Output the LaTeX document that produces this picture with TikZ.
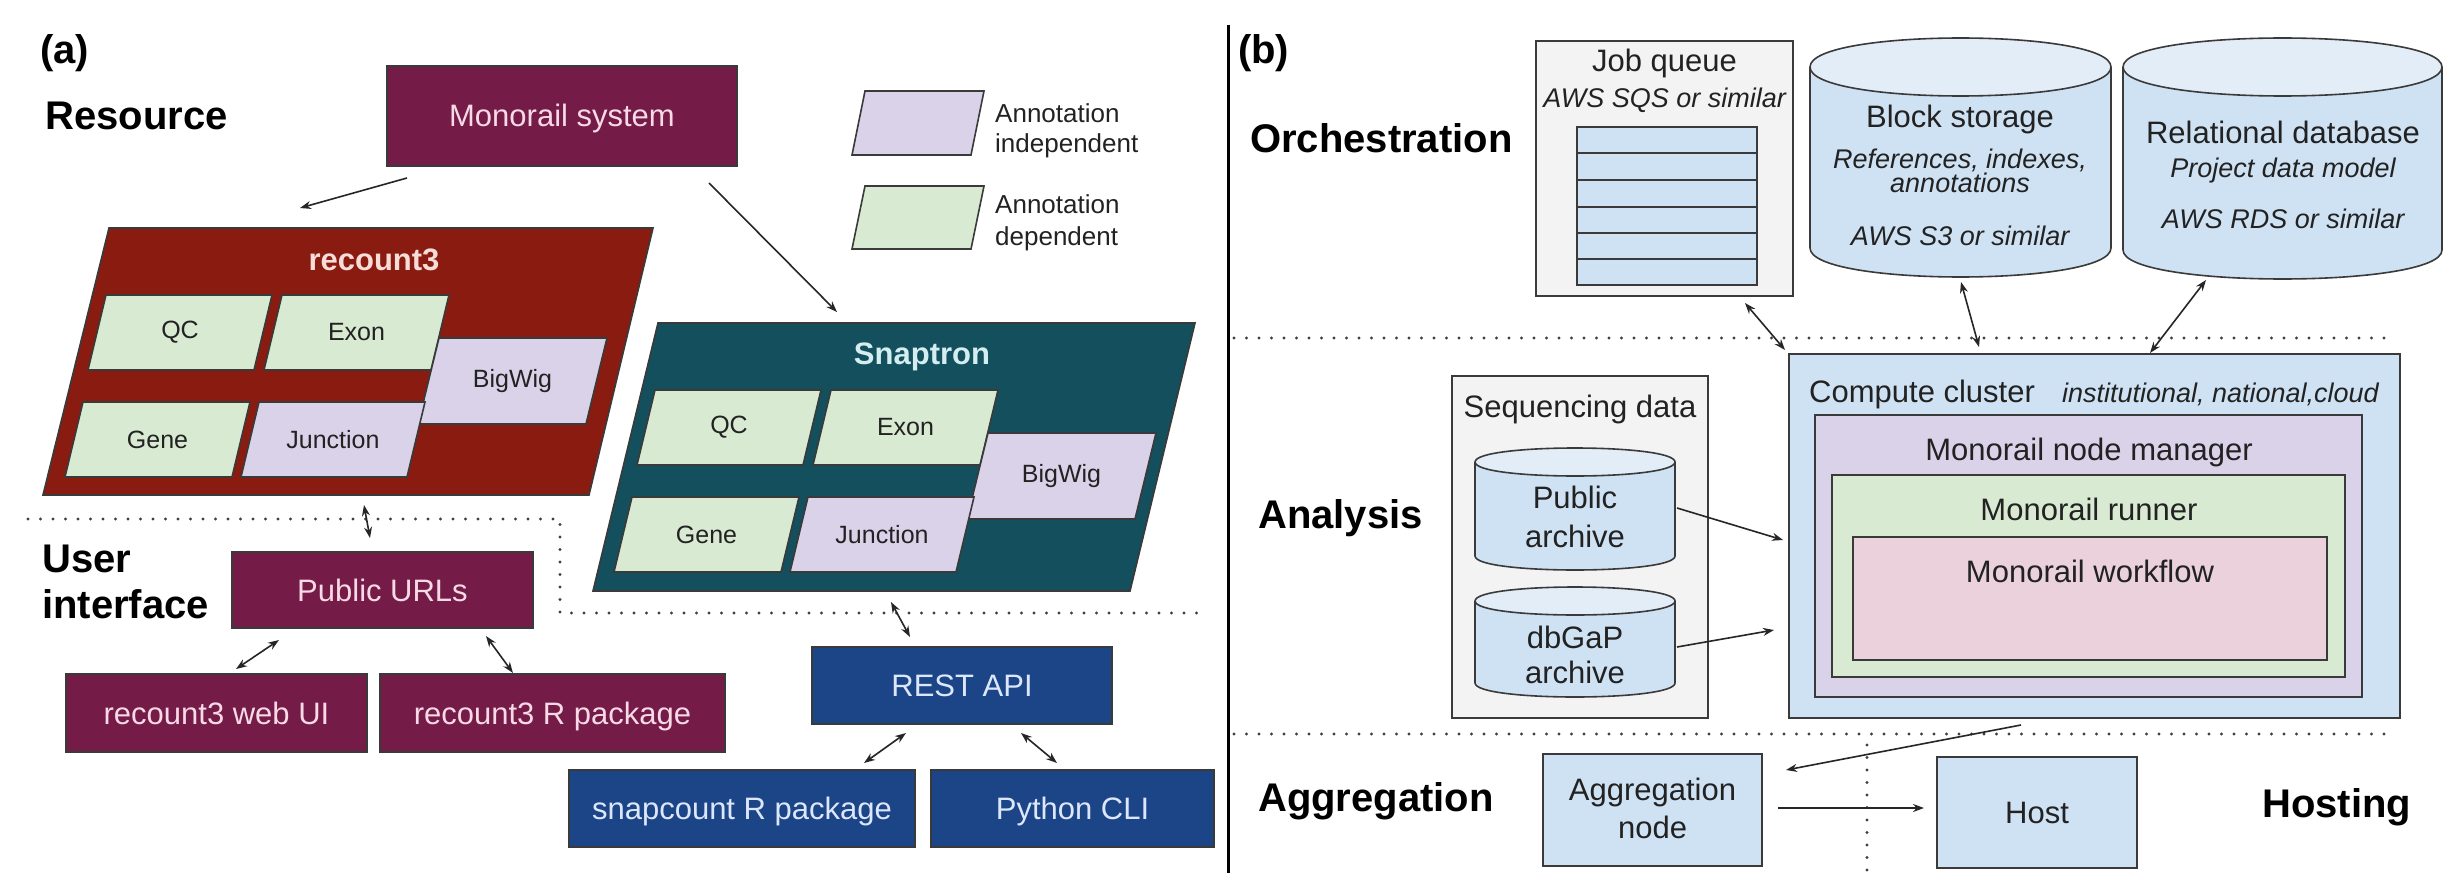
\documentclass[tikz,border=0pt]{standalone}
\usepackage{fontspec}
\setmainfont{Liberation Sans}
\usetikzlibrary{arrows.meta,calc}
\definecolor{cmaroon}{HTML}{741B47}
\definecolor{cmtext}{HTML}{F8D9E6}
\definecolor{cred}{HTML}{8A1B10}
\definecolor{crtext}{HTML}{F8DCD8}
\definecolor{cteal}{HTML}{134F5C}
\definecolor{cttext}{HTML}{D3EDF0}
\definecolor{cblue}{HTML}{1C4587}
\definecolor{cbtext}{HTML}{DCE7FB}
\definecolor{cgreen}{HTML}{D9EAD3}
\definecolor{cpurple}{HTML}{D9D2E9}
\definecolor{clblue}{HTML}{CFE2F3}
\definecolor{cltop}{HTML}{E2EDF7}
\definecolor{cpink}{HTML}{EAD1DC}
\definecolor{cgray}{HTML}{F3F3F3}
\definecolor{cbord}{HTML}{3A3A3A}
\definecolor{ctext}{HTML}{222222}
\newcommand{\fsLab}{\fontsize{40}{46}\selectfont\bfseries}
\newcommand{\fsBox}{\fontsize{31}{37}\selectfont}
\newcommand{\fsIt}{\fontsize{27}{32}\selectfont\itshape}
\newcommand{\fsIn}{\fontsize{25}{30}\selectfont}
\newcommand{\fsLeg}{\fontsize{26}{31}\selectfont}
\newcommand{\fsTitle}{\fontsize{31}{37}\selectfont\bfseries}
% parallelogram: name, TLx, top, width, height, slant, fill, text
\newcommand{\para}[8]{%
  \draw[bord, fill=#7] (#2,#3) -- ++(#4,0) -- ++(-#6,#5) -- ++(-#4,0) -- cycle;
  \node[font=\fsIn, text=ctext, inner sep=0pt] (#1) at ({#2+#4/2-#6/2},{#3+#5/2}) {#8};}
% cylinder: x1,y1,x2,y2,ry
\newcommand{\cyl}[5]{%
  \fill[clblue] (#1,{#2+#5}) -- (#1,{#4-#5}) .. controls (#1,{#4+0.333*#5}) and (#3,{#4+0.333*#5}) .. (#3,{#4-#5}) -- (#3,{#2+#5}) -- cycle;
  \fill[cltop] (#1,{#2+#5}) .. controls (#1,{#2+2.333*#5}) and (#3,{#2+2.333*#5}) .. (#3,{#2+#5}) .. controls (#3,{#2-0.333*#5}) and (#1,{#2-0.333*#5}) .. (#1,{#2+#5}) -- cycle;
  \draw[bord] (#1,{#2+#5}) -- (#1,{#4-#5}) .. controls (#1,{#4+0.333*#5}) and (#3,{#4+0.333*#5}) .. (#3,{#4-#5}) -- (#3,{#2+#5}) .. controls (#3,{#2-0.333*#5}) and (#1,{#2-0.333*#5}) .. (#1,{#2+#5}) -- cycle;
  \draw[bord] (#1,{#2+#5}) .. controls (#1,{#2+2.333*#5}) and (#3,{#2+2.333*#5}) .. (#3,{#2+#5});}
\begin{document}
\begin{tikzpicture}[x=1pt,y=-1pt,
  bord/.style={draw=cbord, line width=1.6pt},
  rbox/.style={bord, inner sep=0pt, outer sep=0pt, font=\fsBox, text height=22pt, text depth=0pt},
  mbox/.style={rbox, fill=cmaroon, text=cmtext},
  bbox/.style={rbox, fill=cblue, text=cbtext},
  lbox/.style={rbox, fill=clblue, text=ctext},
  gbox/.style={rbox, fill=cgray},
  hold/.style={inner sep=0pt, outer sep=0pt, draw=none},
  lab/.style={font=\fsLab, inner sep=0pt, anchor=base west, text=black},
  tx/.style={font=\fsBox, inner sep=0pt, anchor=base, text=ctext},
  itx/.style={font=\fsIt, inner sep=0pt, anchor=base, text=ctext},
  leg/.style={font=\fsLeg, inner sep=0pt, anchor=base west, text=ctext},
  arr/.style={line width=1.6pt, draw=black!85, -{Stealth[length=11pt,width=8pt]}},
  darr/.style={line width=1.6pt, draw=black!85, {Stealth[length=11pt,width=8pt]}-{Stealth[length=11pt,width=8pt]}},
  dotl/.style={line width=3.2pt, dash pattern=on 0pt off 12.5pt, line cap=round, draw=black!75},
]
\useasboundingbox (0,0) rectangle (2464,880);
\fill[white] (0,0) rectangle (2464,880);

% ================= panel (a) =================
\node[lab] (la) at (40,64) {(a)};
\node[lab] (lres) at (45,130) {Resource};
\node[lab] (luser) at (42,572) {User};
\node[lab] (lui) at (42,618) {interface};

\node[mbox, minimum width=350pt, minimum height=100pt] (mono) at (562,116) {Monorail system};

% recount3
\draw[bord, fill=cred] (109,228) coordinate (r3tl) -- (653,228) coordinate (r3tr) -- (589,495) coordinate (r3br) -- (43,495) coordinate (r3bl) -- cycle;
\node[font=\fsTitle, text=crtext, inner sep=0pt, anchor=base] (r3title) at (374,270) {recount3};
\para{r3qc}{106}{295}{166}{75}{18}{cgreen}{QC}
\para{r3exon}{282}{295}{167}{75}{18}{cgreen}{Exon}
\para{r3bw}{439}{338}{168}{86}{21}{cpurple}{BigWig}
\para{r3gene}{83}{402}{167}{75}{18}{cgreen}{Gene}
\para{r3junc}{259}{402}{166}{75}{18}{cpurple}{Junction}

% Snaptron
\draw[bord, fill=cteal] (658,323) coordinate (sntl) -- (1195,323) coordinate (sntr) -- (1130,591) coordinate (snbr) -- (593,591) coordinate (snbl) -- cycle;
\node[font=\fsTitle, text=cttext, inner sep=0pt, anchor=base] (sntitle) at (922,364) {Snaptron};
\para{snqc}{655}{390}{166}{75}{18}{cgreen}{QC}
\para{snexon}{831}{390}{167}{75}{18}{cgreen}{Exon}
\para{snbw}{988}{433}{168}{86}{21}{cpurple}{BigWig}
\para{sngene}{632}{497}{167}{75}{18}{cgreen}{Gene}
\para{snjunc}{808}{497}{166}{75}{18}{cpurple}{Junction}

% legend
\draw[bord, fill=cpurple] (865,91) coordinate (lg1) -- ++(119,0) -- ++(-13,64) -- ++(-119,0) -- cycle;
\draw[bord, fill=cgreen] (865,186) coordinate (lg2) -- ++(119,0) -- ++(-13,63) -- ++(-119,0) -- cycle;
\node[leg] (lgt1) at (995,122) {Annotation};
\node[leg] (lgt2) at (995,153) {independent};
\node[leg] (lgt3) at (995,213) {Annotation};
\node[leg] (lgt4) at (995,245) {dependent};

% user interface boxes
\node[mbox, minimum width=301pt, minimum height=76pt] (urls) at (382.5,590) {Public URLs};
\node[mbox, minimum width=301pt, minimum height=78pt] (webui) at (216.5,713) {recount3 web UI};
\node[mbox, minimum width=345pt, minimum height=78pt] (rpkg) at (552.5,713) {recount3 R package};
\node[bbox, minimum width=300pt, minimum height=77pt] (rest) at (962,685.5) {REST API};
\node[bbox, minimum width=346pt, minimum height=77pt] (snapc) at (742,808.5) {snapcount R package};
\node[bbox, minimum width=283pt, minimum height=77pt] (pycli) at (1072.5,808.5) {Python CLI};

% dotted separator (a)
\draw[dotl] (28,519) -- (560,519) -- (560,613) -- (1202,613);

% arrows (a)
\draw[arr] ($(mono.south west)+(20,12)$) -- ($(r3tl)+(191,-20)$);
\draw[arr] ($(mono.south east)+(-28,17)$) -- ($(sntl)+(179,-11)$);
\draw[darr] ($(r3bl)+(321,10)$) -- ($(urls.north)+(-12.5,-14)$);
\draw[darr] ($(urls.south west)+(47,12)$) -- ($(webui.north)+(19.5,-5)$);
\draw[darr] ($(urls.south east)+(-47,8)$) -- ($(rpkg.north west)+(133,-1)$);
\draw[darr] ($(snbl)+(298,11)$) -- ($(rest.north)+(-52,-10)$);
\draw[darr] ($(rest.south)+(-56,9)$) -- ($(snapc.north east)+(-51,-7)$);
\draw[darr] ($(rest.south)+(59,9)$) -- ($(pycli.north west)+(126,-7)$);

% ================= divider =================
\draw[line width=3pt, black] (1228,25) -- (1228,873);

% ================= panel (b) =================
\node[lab] (lb) at (1238,64) {(b)};
\node[lab] (lorch) at (1250,153) {Orchestration};
\node[lab] (lana) at (1258,528) {Analysis};
\node[lab] (lagg) at (1258,811) {Aggregation};
\node[lab] (lhost) at (2262,817) {Hosting};

% job queue
\node[gbox, minimum width=257pt, minimum height=255pt] (jobq) at (1664.5,168.5) {};
\node[tx] (jobqt) at (1664.5,72) {Job queue};
\node[itx] (jobqi) at (1664.5,108) {AWS SQS or similar};
\node[rbox, fill=clblue, minimum width=180pt, minimum height=158pt] (stack) at (1667,206) {};
\foreach \yy in {153,180,207,233,259} \draw[bord, line width=2pt] (1577,\yy) -- (1757,\yy);

% block storage & relational database
\cyl{1810}{38}{2111}{277}{29}
\node[hold, minimum width=301pt, minimum height=239pt] (blk) at (1960.5,157.5) {};
\node[tx] (blkt1) at (1960,128) {Block storage};
\node[itx] (blkt2) at (1960,168) {References, indexes,};
\node[itx] (blkt3) at (1960,192) {annotations};
\node[itx] (blkt4) at (1960,245) {AWS S3 or similar};
\cyl{2123}{38}{2442}{279}{29}
\node[hold, minimum width=319pt, minimum height=241pt] (rel) at (2282.5,158.5) {};
\node[tx] (relt1) at (2283,143) {Relational database};
\node[itx] (relt2) at (2283,177) {Project data model};
\node[itx] (relt3) at (2283,228) {AWS RDS or similar};

% dotted separators (b)
\draw[dotl] (1234,338) -- (2385,338);
\draw[dotl] (1234,734) -- (2385,734);
\draw[dotl] (1867,745) -- (1867,870);

% sequencing data
\node[gbox, minimum width=256pt, minimum height=342pt] (seq) at (1580,547) {};
\node[tx] (seqt) at (1580,417) {Sequencing data};
\cyl{1475}{448}{1675}{570}{14}
\node[hold, minimum width=200pt, minimum height=122pt] (pub) at (1575,509) {};
\node[tx] (pubt1) at (1575,508) {Public};
\node[tx] (pubt2) at (1575,547) {archive};
\cyl{1475}{587}{1675}{697}{14}
\node[hold, minimum width=200pt, minimum height=110pt] (dbg) at (1575,642) {};
\node[tx] (dbgt1) at (1575,648) {dbGaP};
\node[tx] (dbgt2) at (1575,683) {archive};

% compute cluster
\node[lbox, minimum width=611pt, minimum height=364pt] (compute) at (2094.5,536) {};
\node[font=\fsBox, inner sep=0pt, anchor=base west, text=ctext] (compt) at (1809,402) {Compute cluster};
\node[font=\fsIt, inner sep=0pt, anchor=base east, text=ctext] (compi) at (2379,402) {institutional, national,cloud};
\node[rbox, fill=cpurple, minimum width=547pt, minimum height=282pt] (nodemgr) at (2088.5,556) {};
\node[tx] (nodemgrt) at (2089,460) {Monorail node manager};
\node[rbox, fill=cgreen, minimum width=513pt, minimum height=202pt] (runner) at (2088.5,576) {};
\node[tx] (runnert) at (2089,520) {Monorail runner};
\node[rbox, fill=cpink, minimum width=474pt, minimum height=123pt] (workflow) at (2090,598.5) {};
\node[tx] (workflowt) at (2090,582) {Monorail workflow};

% aggregation & host
\node[lbox, minimum width=219pt, minimum height=112pt] (agg) at (1652.5,810) {};
\node[tx] (aggt1) at (1652.5,800) {Aggregation};
\node[tx] (aggt2) at (1652.5,838) {node};
\node[lbox, minimum width=200pt, minimum height=111pt] (host) at (2037,812.5) {Host};

% arrows (b)
\draw[darr] ($(jobq.south east)+(-48,7)$) -- ($(compute.north west)+(-4,-4)$);
\draw[darr] ($(blk.south)+(0.5,5)$) -- ($(compute.north)+(-115.5,-7)$);
\draw[darr] ($(rel.south)+(-76.5,1)$) -- ($(compute.north)+(55.5,-1)$);
\draw[arr] ($(pub.east)+(2,-1)$) -- ($(compute.west)+(-6,4)$);
\draw[arr] ($(dbg.east)+(2,5)$) -- ($(compute.west)+(-15,94)$);
\draw[arr] ($(compute.south)+(-73.5,7)$) -- ($(agg.north east)+(24,16)$);
\draw[arr] ($(agg.east)+(16,-2)$) -- ($(host.west)+(-13,-4.5)$);
\end{tikzpicture}
\end{document}
